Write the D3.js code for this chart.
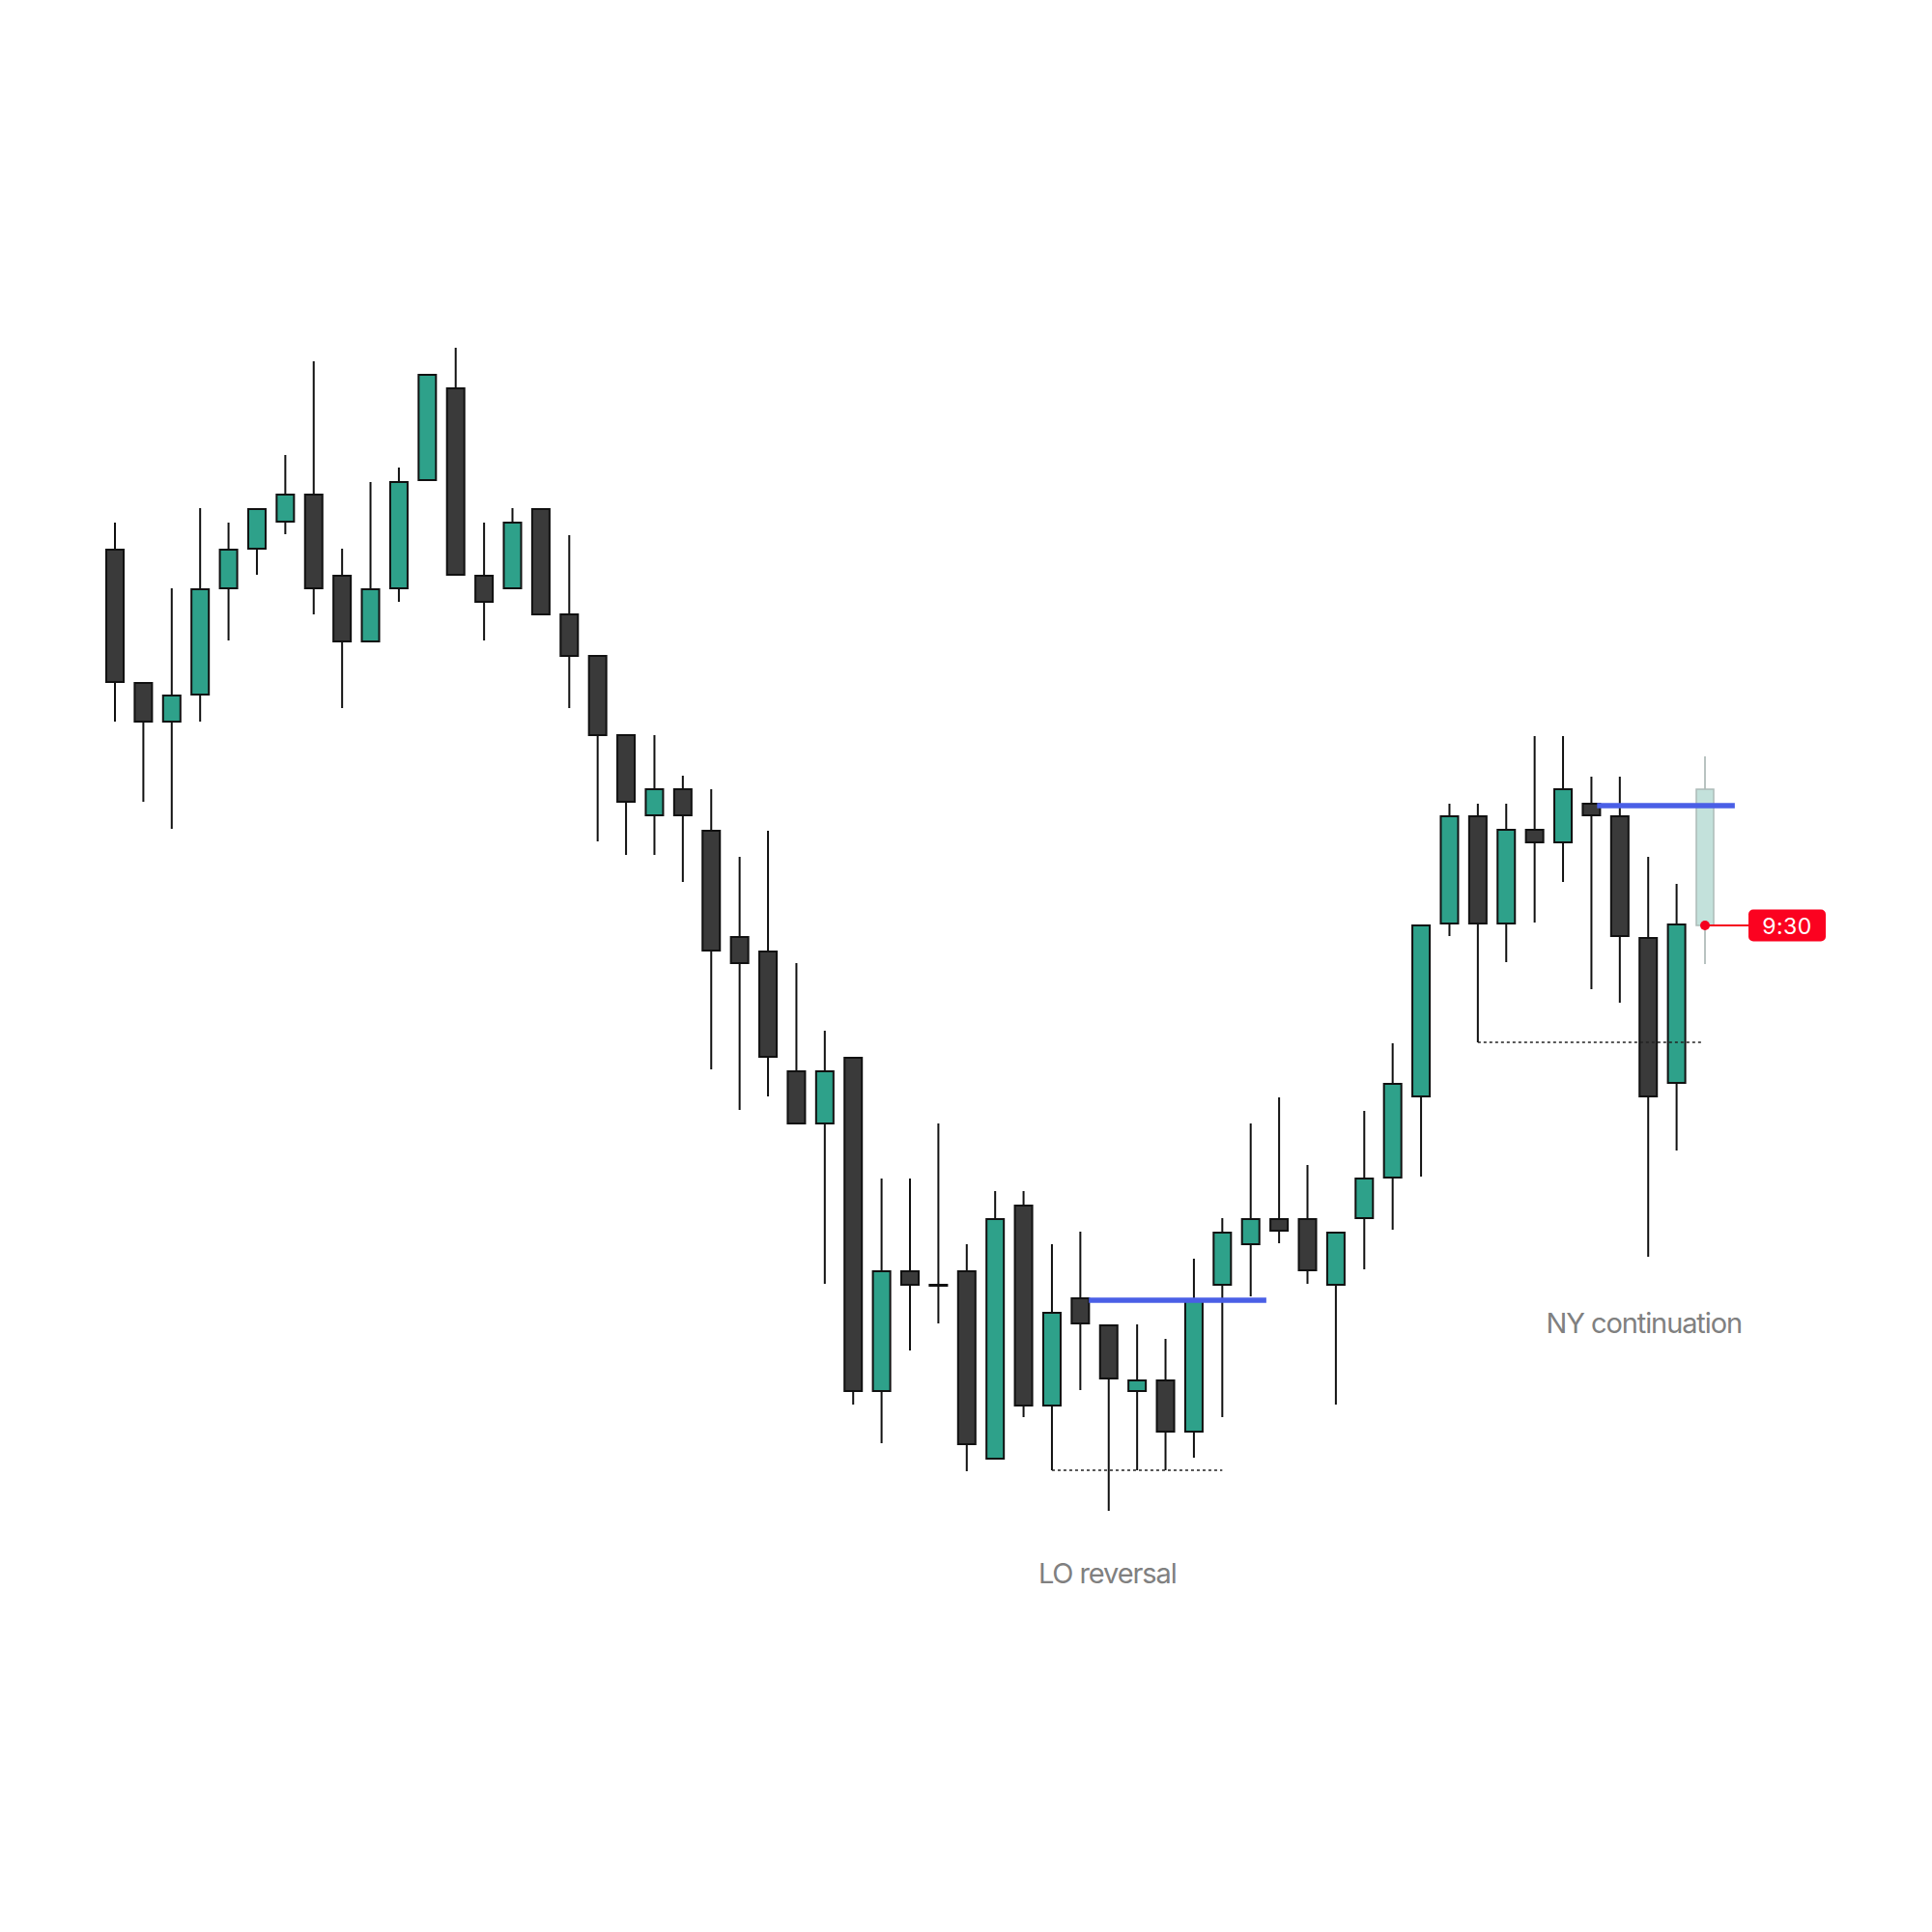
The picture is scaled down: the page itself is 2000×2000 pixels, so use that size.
<!DOCTYPE html>
<html>
<head>
<meta charset="utf-8">
<script src="https://cdn.jsdelivr.net/npm/d3@7"></script>
<style>
    html, body { margin: 0; padding: 0; background: #fff; }
    svg { display: block; }
</style>
</head>
<body>
<div id="container"></div>
<script>
// candle prices, one entry per bar (last bar is the forming 9:30 candle)
const open  = [143.1, 129.3, 125.3, 128.1, 139.1, 143.2, 146.0, 148.8, 140.4, 133.6,
               139.1, 150.3, 159.8, 140.4, 139.1, 147.3, 136.4, 132.1, 123.9, 115.6,
               118.3, 114.0, 103.0, 101.5, 89.1, 83.7, 90.5, 56.0, 68.4, 67.0,
               68.4, 49.0, 75.2, 54.5, 65.6, 62.8, 56.0, 57.1, 51.8, 67.0,
               71.2, 73.8, 73.8, 67.0, 73.9, 78.1, 86.5, 104.4, 115.5, 104.4,
               114.1, 112.8, 116.8, 115.5, 102.9, 87.9, 104.2];
const high  = [145.9, 129.3, 139.1, 147.4, 145.9, 147.3, 152.9, 162.6, 143.2, 150.1,
               151.6, 161.2, 164.0, 145.9, 147.4, 147.3, 144.6, 132.1, 123.9, 123.9,
               119.7, 118.3, 111.3, 114.0, 100.3, 93.3, 90.5, 78.0, 78.0, 83.7,
               71.2, 76.7, 76.7, 71.2, 72.5, 62.8, 62.9, 61.4, 69.7, 73.9,
               83.7, 86.4, 79.4, 72.4, 85.0, 92.0, 104.2, 116.8, 116.8, 116.8,
               123.8, 123.8, 119.6, 119.6, 111.3, 108.5, 121.7];
const low   = [125.3, 117.0, 114.2, 125.3, 133.7, 140.5, 144.7, 136.4, 126.7, 133.6,
               137.7, 150.3, 140.5, 133.7, 139.1, 136.4, 126.7, 112.9, 111.5, 111.5,
               108.7, 89.3, 85.1, 86.5, 83.7, 67.1, 54.6, 50.6, 60.2, 63.0,
               47.7, 49.0, 53.3, 47.8, 56.1, 43.6, 47.8, 47.8, 49.1, 53.3,
               65.8, 71.3, 67.1, 54.6, 68.6, 72.7, 78.2, 103.1, 92.1, 100.4,
               104.5, 108.7, 97.6, 96.2, 69.9, 80.9, 100.2];
const close = [129.4, 125.3, 128.0, 139.0, 143.1, 147.3, 148.8, 139.1, 133.6, 139.0,
               150.1, 161.2, 140.5, 137.7, 145.9, 136.4, 132.1, 123.9, 117.0, 118.3,
               115.6, 101.6, 100.3, 90.6, 83.7, 89.1, 56.0, 68.4, 67.0, 67.0,
               50.5, 73.8, 54.5, 64.1, 63.0, 57.3, 57.1, 51.8, 65.5, 72.4,
               73.8, 72.6, 68.5, 72.4, 78.0, 87.8, 104.2, 115.5, 104.4, 114.1,
               112.8, 118.3, 115.6, 103.1, 86.5, 104.3, 118.3];

// annotation levels: [price, from bar, to bar]
const levelLines  = [[65.4, 34.3, 40.55], [116.6, 52.2, 57.05]];
const sweepLines  = [[47.8, 33, 39], [92.1, 48, 55.9]];
// session labels: [text, bar, baseline price]
const labels      = [["LO reversal", 34.95, 36.1], ["NY continuation", 53.85, 62.0]];
const liveBar     = 56;
const liveLabel   = "9:30";

const width = 2000, height = 2000;
const green = "#2ea18a", dark = "#3a3a3a", edge = "#111";

const x = d3.scaleLinear().domain([0, 56]).range([119, 1765]);
const y = d3.scaleLinear().domain([40, 170]).range([1600, 300]);
const bodyW = 18;

const bars = d3.range(open.length).map(i => ({
    i: i, o: open[i], h: high[i], l: low[i], c: close[i]
}));

const svg = d3.select("#container").append("svg")
    .attr("width", width)
    .attr("height", height)
    .attr("viewBox", [0, 0, width, height]);

const done = bars.filter(d => d.i !== liveBar);
const live = bars.filter(d => d.i === liveBar);

// wicks
svg.append("g")
    .attr("stroke", edge)
    .attr("stroke-width", 2)
    .selectAll("line")
    .data(done)
    .join("line")
    .attr("x1", d => x(d.i)).attr("x2", d => x(d.i))
    .attr("y1", d => y(d.h)).attr("y2", d => y(d.l));

// bodies
svg.append("g")
    .attr("stroke", edge)
    .attr("stroke-width", 2)
    .selectAll("rect")
    .data(done)
    .join("rect")
    .attr("x", d => x(d.i) - bodyW / 2)
    .attr("width", bodyW)
    .attr("y", d => y(Math.max(d.o, d.c)))
    .attr("height", d => Math.max(1, Math.abs(y(d.o) - y(d.c))))
    .attr("fill", d => d.c > d.o ? green : dark);

// the forming candle
svg.append("g")
    .selectAll("line")
    .data(live)
    .join("line")
    .attr("stroke", "#b9c3c1")
    .attr("stroke-width", 2)
    .attr("x1", d => x(d.i)).attr("x2", d => x(d.i))
    .attr("y1", d => y(d.h)).attr("y2", d => y(d.l));

svg.append("g")
    .selectAll("rect")
    .data(live)
    .join("rect")
    .attr("x", d => x(d.i) - bodyW / 2)
    .attr("width", bodyW)
    .attr("y", d => y(Math.max(d.o, d.c)))
    .attr("height", d => Math.abs(y(d.o) - y(d.c)))
    .attr("fill", "#c3e1db")
    .attr("stroke", "#adbbb8")
    .attr("stroke-width", 1.5);

// dotted sweep levels
svg.append("g")
    .attr("stroke", "#222")
    .attr("stroke-width", 1.6)
    .attr("stroke-dasharray", "3,3")
    .selectAll("line")
    .data(sweepLines)
    .join("line")
    .attr("x1", d => x(d[1])).attr("x2", d => x(d[2]))
    .attr("y1", d => y(d[0])).attr("y2", d => y(d[0]));

// blue levels
svg.append("g")
    .attr("stroke", "#4a5fe6")
    .attr("stroke-width", 5.5)
    .selectAll("line")
    .data(levelLines)
    .join("line")
    .attr("x1", d => x(d[1])).attr("x2", d => x(d[2]))
    .attr("y1", d => y(d[0])).attr("y2", d => y(d[0]));

// session labels
svg.append("g")
    .attr("fill", "#808080")
    .attr("font-family", "Inter, 'Noto Sans', sans-serif")
    .attr("font-size", 29)
    .attr("letter-spacing", "-1.1px")
    .attr("text-anchor", "middle")
    .selectAll("text")
    .data(labels)
    .join("text")
    .attr("x", d => x(d[1]))
    .attr("y", d => y(d[2]))
    .text(d => d[0]);

// live price marker + time tag
const lp = live[0];
const tag = svg.append("g");
const tagX = x(lp.i) + 45, tagW = 80, tagH = 33;
tag.append("line")
    .attr("x1", x(lp.i)).attr("x2", tagX)
    .attr("y1", y(lp.o)).attr("y2", y(lp.o))
    .attr("stroke", "#f5001e")
    .attr("stroke-width", 2);
tag.append("circle")
    .attr("cx", x(lp.i)).attr("cy", y(lp.o))
    .attr("r", 5)
    .attr("fill", "#f5001e");
tag.append("rect")
    .attr("x", tagX).attr("y", y(lp.o) - tagH / 2)
    .attr("width", tagW).attr("height", tagH)
    .attr("rx", 5)
    .attr("fill", "#fb0220");
tag.append("text")
    .attr("x", tagX + tagW / 2).attr("y", y(lp.o) + 8.5)
    .attr("text-anchor", "middle")
    .attr("font-family", "Inter, 'Noto Sans', sans-serif")
    .attr("font-size", 23)
    .attr("letter-spacing", "0.5px")
    .attr("fill", "#fff")
    .text(liveLabel);
</script>
</body>
</html>
